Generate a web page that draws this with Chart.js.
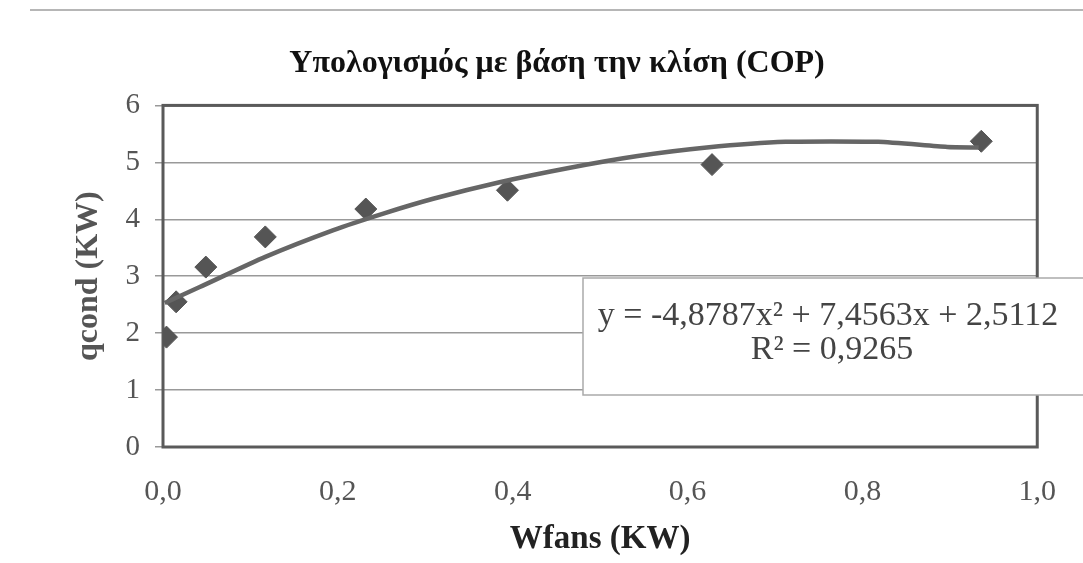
<!DOCTYPE html>
<html>
<head>
<meta charset="utf-8">
<script src="https://cdn.jsdelivr.net/npm/chart.js@4.4.0/dist/chart.umd.min.js"></script>
<style>
  html, body { margin: 0; padding: 0; background: #fff; }
  #wrap { width: 1083px; height: 563px; }
</style>
</head>
<body>
<div id="wrap"><canvas id="chart"></canvas></div>
<script>
// measured points (Wfans, qcond)
var wfans = [0.004, 0.015, 0.049, 0.117, 0.232, 0.394, 0.628, 0.936];
var qcond = [1.93, 2.55, 3.16, 3.69, 4.18, 4.51, 4.96, 5.37];

// trend line
var trendX = [0.002, 0.042, 0.117, 0.195, 0.252, 0.309, 0.385, 0.464, 0.543, 0.622, 0.712, 0.818, 0.897, 0.933];
var trendY = [2.53, 2.81, 3.34, 3.81, 4.10, 4.36, 4.65, 4.90, 5.11, 5.26, 5.36, 5.36, 5.27, 5.26];

var titleText = 'Υπολογισμός με βάση την κλίση (COP)';
var xTitle = 'Wfans (KW)';
var yTitle = 'qcond (KW)';
var eqText = 'y = -4,8787x² + 7,4563x + 2,5112';
var r2Text = 'R² = 0,9265';

var serif = '"Liberation Serif", "Times New Roman", serif';

var points = wfans.map(function (x, i) { return { x: x, y: qcond[i] }; });
var trend = trendX.map(function (x, i) { return { x: x, y: trendY[i] }; });

// frame round the plot area
var frame = {
    id: 'frame',
    beforeDatasetsDraw: function (chart) {
        var a = chart.chartArea, ctx = chart.ctx;
        ctx.save();
        ctx.strokeStyle = '#5a5a5a';
        ctx.lineWidth = 3;
        ctx.strokeRect(a.left, a.top, a.right - a.left, a.bottom - a.top);
        // faint scan line at the top
        ctx.strokeStyle = 'rgba(110,110,110,0.5)';
        ctx.lineWidth = 2;
        ctx.beginPath();
        ctx.moveTo(30, 10);
        ctx.lineTo(1083, 10);
        ctx.stroke();
        ctx.restore();
    }
};

// trendline equation box
var eqBox = {
    id: 'eqBox',
    afterDraw: function (chart) {
        var ctx = chart.ctx;
        ctx.save();
        ctx.fillStyle = '#fff';
        ctx.fillRect(583, 278, 500, 117);
        ctx.strokeStyle = '#aaa';
        ctx.lineWidth = 1.5;
        ctx.beginPath();
        ctx.moveTo(1083, 278);
        ctx.lineTo(583, 278);
        ctx.lineTo(583, 395);
        ctx.lineTo(1083, 395);
        ctx.stroke();
        ctx.fillStyle = '#444';
        ctx.font = '34px ' + serif;
        ctx.textAlign = 'center';
        ctx.textBaseline = 'middle';
        ctx.fillText(eqText, 828, 316);
        ctx.fillText(r2Text, 832, 350);
        ctx.restore();
    }
};

var ctx = document.getElementById('chart').getContext('2d');
var chart = new Chart(ctx, {
    type: 'scatter',
    data: {
        datasets: [{
            type: 'line',
            data: trend,
            borderColor: '#666',
            borderWidth: 4.5,
            pointRadius: 0,
            tension: 0.2,
            fill: false
        }, {
            data: points,
            pointStyle: 'rectRot',
            pointRadius: 11,
            pointBackgroundColor: '#555',
            pointBorderColor: '#555',
            pointBorderWidth: 1
        }]
    },
    options: {
        responsive: true,
        maintainAspectRatio: false,
        animation: false,
        layout: { padding: { left: 76, right: 45, top: 0, bottom: 0 } },
        plugins: {
            legend: { display: false },
            tooltip: { enabled: false },
            title: {
                display: true,
                text: titleText,
                color: '#111',
                font: { family: serif, size: 32, weight: 'bold' },
                padding: { top: 45, bottom: 22 }
            }
        },
        scales: {
            x: {
                type: 'linear',
                min: 0,
                max: 1,
                afterFit: function (s) { s.height = 116; },
                grid: { display: false, drawTicks: false },
                border: { display: false },
                ticks: {
                    stepSize: 0.2,
                    padding: 27,
                    color: '#555',
                    font: { family: serif, size: 30 },
                    callback: function (v) { return v.toFixed(1).replace('.', ','); }
                },
                title: {
                    display: true,
                    text: xTitle,
                    color: '#222',
                    font: { family: serif, size: 33, weight: 'bold' },
                    padding: { top: 0, bottom: 4 }
                }
            },
            y: {
                min: 0,
                max: 6,
                afterFit: function (s) { s.width = 87; },
                grid: { color: '#999', lineWidth: 1.5, tickLength: 8, drawTicks: true },
                border: { display: false },
                ticks: {
                    stepSize: 1,
                    padding: 15,
                    color: '#555',
                    font: { family: serif, size: 29 }
                },
                title: {
                    display: true,
                    text: yTitle,
                    color: '#555',
                    font: { family: serif, size: 32, weight: 'bold' },
                    padding: { top: -6, bottom: 0 }
                }
            }
        }
    },
    plugins: [frame, eqBox]
});
</script>
</body>
</html>
